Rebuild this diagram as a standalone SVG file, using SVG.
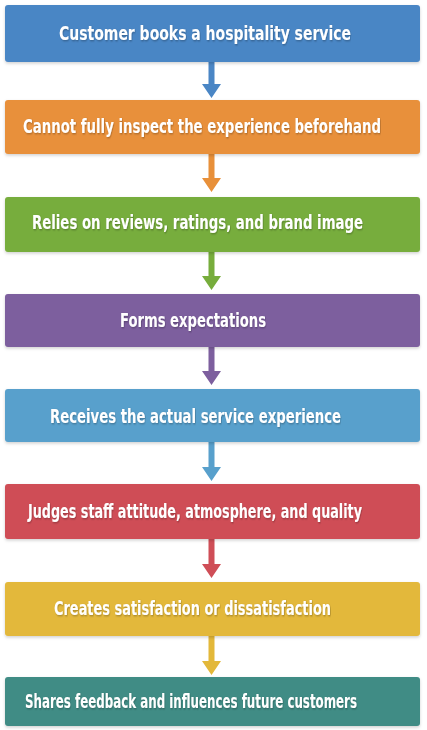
<svg xmlns="http://www.w3.org/2000/svg" width="427" height="730" viewBox="0 0 427 730">
<defs>
<filter id="bs" x="-5%" y="-20%" width="110%" height="150%"><feDropShadow dx="0" dy="1.5" stdDeviation="1.5" flood-color="#000" flood-opacity="0.18"/></filter>
<filter id="ts" x="-10%" y="-50%" width="120%" height="200%"><feDropShadow dx="0.6" dy="0.8" stdDeviation="0.7" flood-color="#000" flood-opacity="0.3"/></filter>
</defs>
<style>
.box{filter:url(#bs)}
.lbl{font-family:"DejaVu Sans Condensed","Open Sans","Liberation Sans",sans-serif;font-weight:600;font-size:15px;fill:#fff;filter:url(#ts)}
</style>
<rect width="427" height="730" fill="#fff"/>
<g id="connectors">
<path d="M208.5 62 V84 H202 L211.5 98 L221 84 H214.5 V62 Z" fill="#4a86c5"/>
<path d="M208.5 154 V178 H202 L211.5 192 L221 178 H214.5 V154 Z" fill="#e8903a"/>
<path d="M208.5 252 V276 H202 L211.5 290 L221 276 H214.5 V252 Z" fill="#77ad3c"/>
<path d="M208.5 347 V371 H202 L211.5 385 L221 371 H214.5 V347 Z" fill="#7d5f9e"/>
<path d="M208.5 442 V467 H202 L211.5 481 L221 467 H214.5 V442 Z" fill="#58a0cc"/>
<path d="M208.5 539 V564 H202 L211.5 578 L221 564 H214.5 V539 Z" fill="#cf4e57"/>
<path d="M208.5 636 V661 H202 L211.5 675 L221 661 H214.5 V636 Z" fill="#e3b83a"/>
</g>
<g id="n1"><rect class="box" x="5" y="5" width="415" height="57" rx="3" fill="#4a86c5"/><text class="lbl" transform="translate(59 40) scale(1 1.27)" textLength="292" lengthAdjust="spacingAndGlyphs">Customer books a hospitality service</text></g>
<g id="n2"><rect class="box" x="5" y="100" width="415" height="54" rx="3" fill="#e8903a"/><text class="lbl" transform="translate(23 133) scale(1 1.27)" textLength="358" lengthAdjust="spacingAndGlyphs">Cannot fully inspect the experience beforehand</text></g>
<g id="n3"><rect class="box" x="5" y="197" width="415" height="55" rx="3" fill="#77ad3c"/><text class="lbl" transform="translate(32 229) scale(1 1.27)" textLength="331" lengthAdjust="spacingAndGlyphs">Relies on reviews, ratings, and brand image</text></g>
<g id="n4"><rect class="box" x="5" y="294" width="415" height="53" rx="3" fill="#7d5f9e"/><text class="lbl" transform="translate(120 327) scale(1 1.27)" textLength="146" lengthAdjust="spacingAndGlyphs">Forms expectations</text></g>
<g id="n5"><rect class="box" x="5" y="389" width="415" height="53" rx="3" fill="#58a0cc"/><text class="lbl" transform="translate(50 423) scale(1 1.27)" textLength="291" lengthAdjust="spacingAndGlyphs">Receives the actual service experience</text></g>
<g id="n6"><rect class="box" x="5" y="484" width="415" height="55" rx="3" fill="#cf4e57"/><text class="lbl" transform="translate(28 518) scale(1 1.27)" textLength="334" lengthAdjust="spacingAndGlyphs">Judges staff attitude, atmosphere, and quality</text></g>
<g id="n7"><rect class="box" x="5" y="582" width="415" height="54" rx="3" fill="#e3b83a"/><text class="lbl" transform="translate(54 615) scale(1 1.27)" textLength="277" lengthAdjust="spacingAndGlyphs">Creates satisfaction or dissatisfaction</text></g>
<g id="n8"><rect class="box" x="5" y="677" width="415" height="49" rx="3" fill="#3f8c85"/><text class="lbl" transform="translate(25 708) scale(1 1.27)" textLength="332" lengthAdjust="spacingAndGlyphs">Shares feedback and influences future customers</text></g>
</svg>
